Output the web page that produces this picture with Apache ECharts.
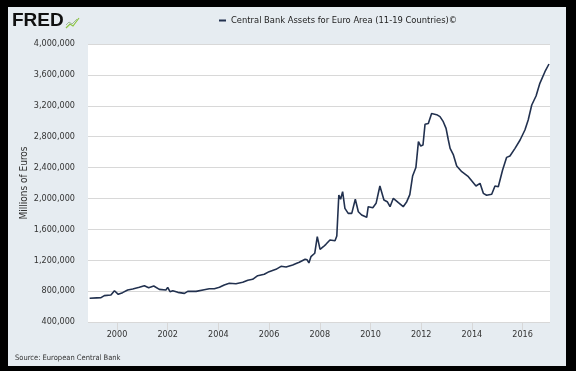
<!DOCTYPE html>
<html>
<head>
<meta charset="utf-8">
<script src="https://cdn.jsdelivr.net/npm/echarts@6/dist/echarts.min.js"></script>
<style>
  html, body { margin: 0; padding: 0; background: #000; }
  #panel { position: absolute; left: 8px; top: 7px; width: 558px; height: 359px; background: #e6ecf1; }
  #chart { position: absolute; left: 0; top: 0; width: 576px; height: 371px; }
</style>
</head>
<body>
<div id="panel"></div>
<div id="chart"></div>
<script>
// ---- data ----
const seriesName = 'Central Bank Assets for Euro Area (11-19 Countries)©';
const yearTicks = [2000, 2002, 2004, 2006, 2008, 2010, 2012, 2014, 2016];
const yTicks = [400000, 800000, 1200000, 1600000, 2000000, 2400000, 2800000, 3200000, 3600000, 4000000];

// decimal years of the observations
const dates = [
  1998.92, 1999.2, 1999.37, 1999.5, 1999.76, 1999.9, 2000.05, 2000.22, 2000.42, 2000.62,
  2000.88, 2001.08, 2001.25, 2001.45, 2001.67, 2001.93, 2002.0, 2002.09, 2002.2, 2002.4,
  2002.66, 2002.79, 2003.12, 2003.44, 2003.64, 2003.84, 2004.04, 2004.23, 2004.43, 2004.69,
  2004.96, 2005.16, 2005.35, 2005.55, 2005.81, 2006.0, 2006.27, 2006.47, 2006.67, 2006.93,
  2007.09, 2007.19, 2007.42, 2007.5, 2007.57, 2007.65, 2007.8, 2007.9, 2008.01, 2008.14,
  2008.24, 2008.4, 2008.6, 2008.67, 2008.75, 2008.82, 2008.9, 2008.99, 2009.12, 2009.26,
  2009.32, 2009.4, 2009.52, 2009.65, 2009.85, 2009.91, 2010.09, 2010.22, 2010.37, 2010.53,
  2010.66, 2010.77, 2010.9, 2011.1, 2011.29, 2011.43, 2011.55, 2011.66, 2011.79, 2011.89,
  2011.98, 2012.07, 2012.15, 2012.28, 2012.41, 2012.61, 2012.74, 2012.87, 2012.98, 2013.07,
  2013.14, 2013.27, 2013.4, 2013.6, 2013.86, 2013.99, 2014.16, 2014.32, 2014.45, 2014.58,
  2014.78, 2014.91, 2015.04, 2015.21, 2015.37, 2015.5, 2015.7, 2015.9, 2016.09, 2016.22,
  2016.36, 2016.53, 2016.68, 2016.88, 2017.04
];
// millions of euros
const assets = [
  707000, 712000, 715000, 741000, 750000, 805000, 758000, 780000, 814000, 827000,
  849000, 870000, 844000, 866000, 823000, 814000, 849000, 793000, 805000, 784000,
  771000, 797000, 797000, 818000, 831000, 831000, 849000, 879000, 901000, 896000,
  914000, 940000, 953000, 1000000, 1018000, 1052000, 1082000, 1121000, 1112000, 1138000,
  1160000, 1173000, 1212000, 1205000, 1165000, 1246000, 1290000, 1505000, 1341000, 1375000,
  1406000, 1462000, 1453000, 1514000, 2045000, 1989000, 2088000, 1872000, 1807000, 1807000,
  1786000, 1989000, 1828000, 1786000, 1756000, 1893000, 1880000, 1937000, 2161000, 1980000,
  1958000, 1893000, 2002000, 1945000, 1893000, 1958000, 2050000, 2290000, 2400000, 2735000,
  2679000, 2692000, 2960000, 2970000, 3100000, 3085000, 3059000, 2994000, 2908000, 2757000,
  2649000, 2563000, 2420000, 2346000, 2282000, 2230000, 2161000, 2196000, 2066000, 2041000,
  2054000, 2161000, 2152000, 2368000, 2532000, 2550000, 2649000, 2757000, 2886000, 3016000,
  3210000, 3327000, 3491000, 3641000, 3741000
];

const points = dates.map((d, i) => [d, assets[i]]);
const narrow = "'Liberation Sans Narrow', 'DejaVu Sans Condensed', 'Liberation Sans', sans-serif";
const fmt = v => String(v).replace(/\B(?=(\d{3})+(?!\d))/g, ',');

const chart = echarts.init(document.getElementById('chart'), null, { renderer: 'canvas' });
chart.setOption({
  backgroundColor: 'transparent',
  animation: false,
  grid: {
    left: 88, right: 26, top: 44, bottom: 49,
    show: true, backgroundColor: '#ffffff', borderWidth: 0
  },
  legend: {
    data: [seriesName],
    left: 219, top: 14, padding: 0,
    icon: 'rect', itemWidth: 7, itemHeight: 2,
    textStyle: { fontFamily: narrow, fontSize: 9.3, color: '#222', lineHeight: 13 }
  },
  xAxis: {
    type: 'value',
    min: 1998.856, max: 2017.08,
    axisLine: { show: false },
    splitLine: { show: false },
    axisTick: { show: true, customValues: yearTicks, length: 8, lineStyle: { color: '#d8d8d8' } },
    axisLabel: {
      customValues: yearTicks, formatter: v => String(Math.round(v)),
      margin: 8, fontFamily: narrow, fontSize: 9, color: '#333'
    }
  },
  yAxis: {
    type: 'value',
    min: yTicks[0], max: yTicks[yTicks.length - 1], interval: 400000,
    name: 'Millions of Euros', nameLocation: 'middle', nameRotate: 90, nameGap: 59,
    nameMoveOverlap: false,
    nameTextStyle: { fontFamily: narrow, fontSize: 10, color: '#333' },
    axisLine: { show: false },
    axisTick: { show: false },
    splitLine: { lineStyle: { color: '#d8d8d8', width: 1 } },
    axisLabel: { formatter: v => fmt(v), margin: 13, fontFamily: narrow, fontSize: 9, color: '#333' }
  },
  series: [{
    name: seriesName,
    type: 'line',
    data: points,
    showSymbol: false,
    symbol: 'none',
    lineStyle: { color: '#22314f', width: 1.6 },
    itemStyle: { color: '#22314f' }
  }],
  graphic: [
    {
      type: 'text', left: 12, top: 11,
      style: { text: 'FRED', fontFamily: "'Liberation Sans', Arial, sans-serif", fontWeight: 'bold', fontSize: 19, fill: '#111' }
    },
    {
      type: 'polyline', shape: { points: [[66, 28], [70, 24], [73, 26], [79, 18]] },
      style: { stroke: '#8cc63f', lineWidth: 1.2, fill: null }
    },
    {
      type: 'polyline', shape: { points: [[66, 25], [69, 22], [72, 24], [77, 19]] },
      style: { stroke: '#9fb89a', lineWidth: 1, fill: null }
    },
    {
      type: 'text', left: 15, top: 354,
      style: { text: 'Source: European Central Bank', fontFamily: narrow, fontSize: 7.5, fill: '#333' }
    }
  ]
});
</script>
</body>
</html>
